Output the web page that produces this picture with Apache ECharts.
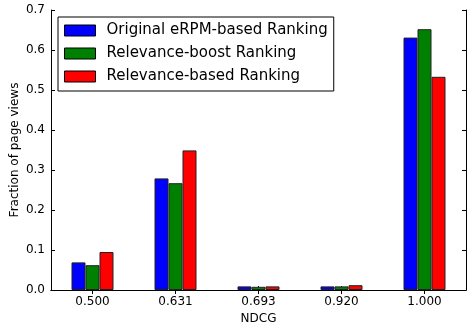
<!DOCTYPE html>
<html>
<head>
<meta charset="utf-8">
<script src="https://cdn.jsdelivr.net/npm/echarts@6/dist/echarts.min.js"></script>
<style>
  html, body { margin: 0; padding: 0; background: #fff; }
  #chart { width: 467px; height: 326px; }
</style>
</head>
<body>
<div id="chart"></div>
<script>
// NDCG buckets on the x axis
var categories = ['0.500', '0.631', '0.693', '0.920', '1.000'];

// Fraction of page views per ranking method
var originalERPM = [0.069, 0.279, 0.009, 0.009, 0.631];
var relevanceBoost = [0.062, 0.267, 0.008, 0.009, 0.652];
var relevanceBased = [0.095, 0.349, 0.009, 0.012, 0.533];

var seriesNames = ['Original eRPM-based Ranking', 'Relevance-boost Ranking', 'Relevance-based Ranking'];
var seriesColors = ['#0000ff', '#008000', '#ff0000'];
var seriesData = [originalERPM, relevanceBoost, relevanceBased];

var yTicks = { min: 0, max: 0.7, interval: 0.1 };

var fontFamily = 'DejaVu Sans';
var chart = echarts.init(document.getElementById('chart'), null, { renderer: 'canvas' });

var frameAxisLine = { show: true, lineStyle: { color: '#000', width: 1 } };
var innerTick = { show: true, inside: true, length: 4, lineStyle: { color: '#000' } };

chart.setOption({
  animation: false,
  backgroundColor: '#fff',
  textStyle: { fontFamily: fontFamily },
  grid: { left: 51, right: 1, top: 10, bottom: 36, containLabel: false, outerBoundsMode: 'none' },
  legend: {
    data: seriesNames,
    orient: 'vertical',
    left: 58,
    top: 17,
    padding: [6, 6, 7, 6],
    itemWidth: 31,
    itemHeight: 11,
    itemGap: 8,
    icon: 'rect',
    borderColor: '#000',
    borderWidth: 1,
    borderRadius: 0,
    backgroundColor: '#fff',
    itemStyle: { borderColor: '#000', borderWidth: 1 },
    textStyle: { fontFamily: fontFamily, fontSize: 15, color: '#000', lineHeight: 14, padding: [0, 0, 0, 6] }
  },
  xAxis: [{
    type: 'category',
    data: categories,
    name: 'NDCG',
    nameLocation: 'middle',
    nameGap: 23,
    nameMoveOverlap: false,
    nameTextStyle: { fontFamily: fontFamily, fontSize: 12, color: '#000' },
    axisLine: frameAxisLine,
    axisTick: { show: true, inside: true, length: 4, alignWithLabel: true, lineStyle: { color: '#000' } },
    axisLabel: { fontFamily: fontFamily, fontSize: 12, color: '#000', margin: 6 },
    splitLine: { show: false }
  }, {
    type: 'category',
    data: categories,
    position: 'top',
    axisLine: frameAxisLine,
    axisTick: { show: true, inside: true, length: 4, alignWithLabel: true, lineStyle: { color: '#000' } },
    axisLabel: { show: false },
    splitLine: { show: false }
  }],
  yAxis: [{
    type: 'value',
    min: yTicks.min,
    max: yTicks.max,
    interval: yTicks.interval,
    name: 'Fraction of page views',
    nameLocation: 'middle',
    nameGap: 30,
    nameMoveOverlap: false,
    nameTextStyle: { fontFamily: fontFamily, fontSize: 12, color: '#000' },
    axisLine: frameAxisLine,
    axisTick: innerTick,
    axisLabel: { fontFamily: fontFamily, fontSize: 12, color: '#000', margin: 6,
      formatter: function (v) { return v.toFixed(1); } },
    splitLine: { show: false }
  }, {
    type: 'value',
    position: 'right',
    min: yTicks.min,
    max: yTicks.max,
    interval: yTicks.interval,
    axisLine: frameAxisLine,
    axisTick: innerTick,
    axisLabel: { show: false },
    splitLine: { show: false }
  }],
  series: seriesData.map(function (d, i) {
    return {
      name: seriesNames[i],
      type: 'bar',
      data: d,
      barWidth: 14,
      barGap: '0%',
      itemStyle: { color: seriesColors[i], borderColor: '#222', borderWidth: 1 }
    };
  })
});
</script>
</body>
</html>
